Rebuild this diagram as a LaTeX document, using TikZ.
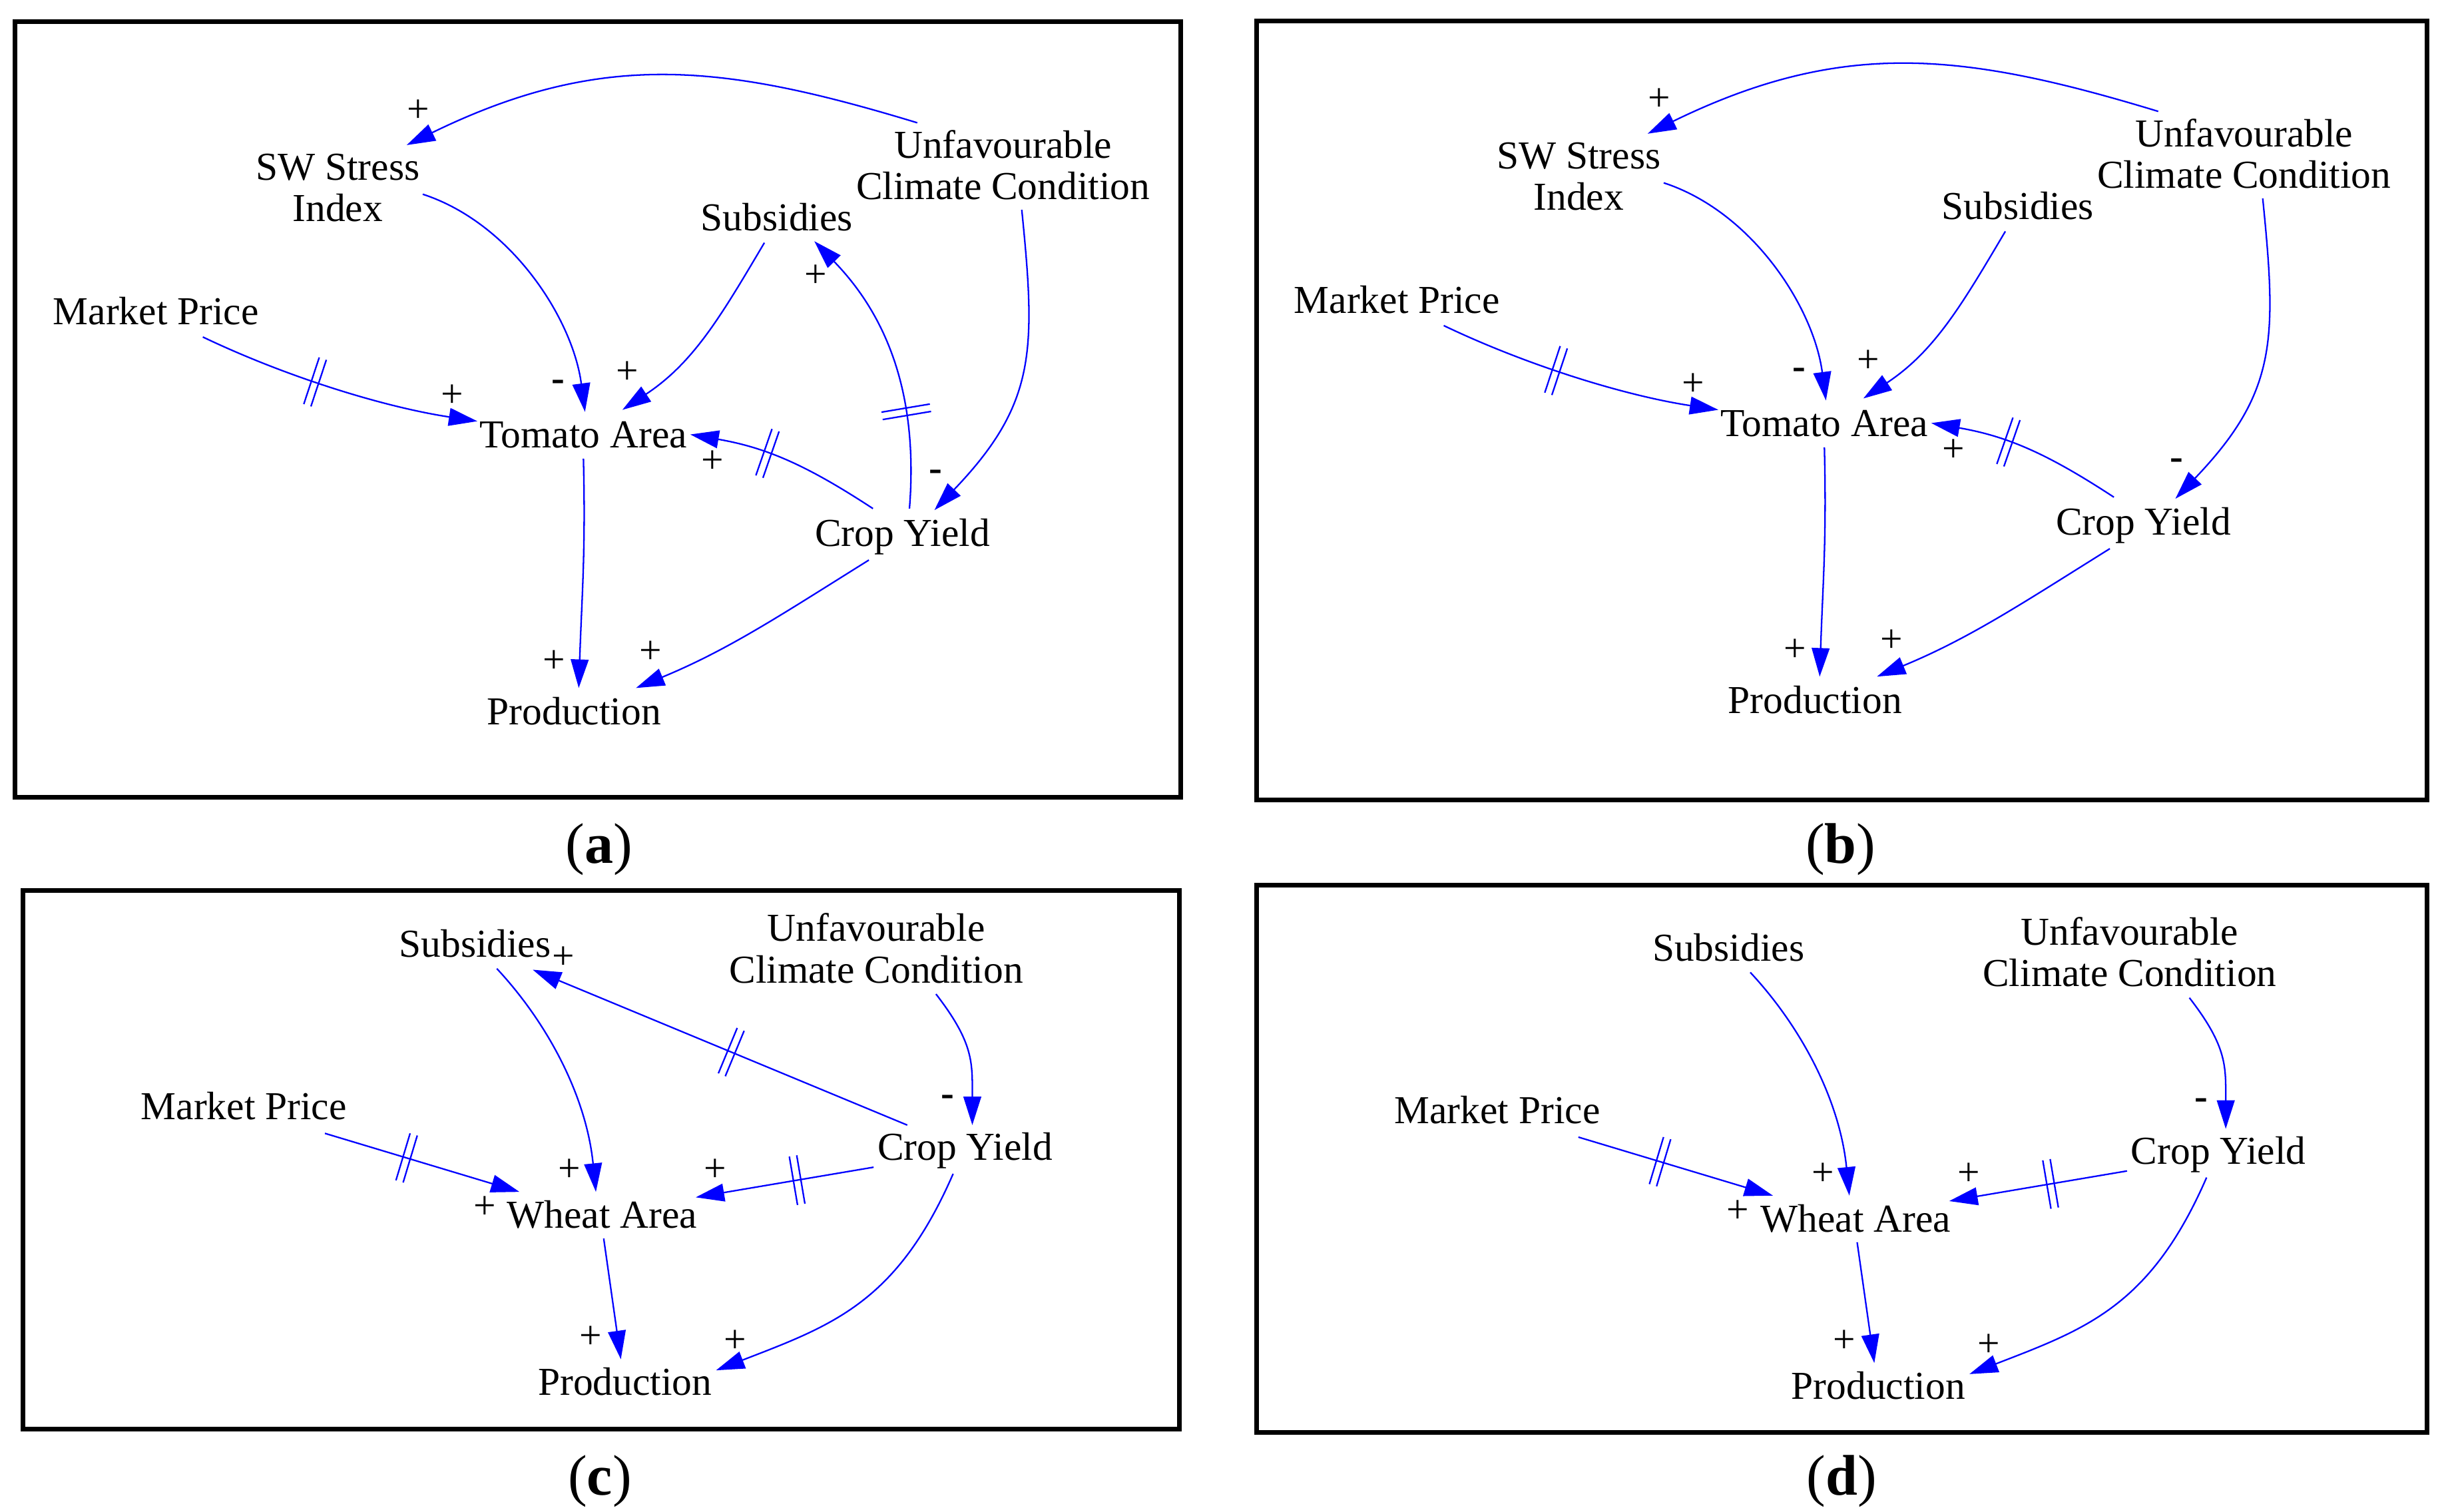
\documentclass[tikz,border=0pt]{standalone}
\usepackage{fontspec}
\setmainfont{Liberation Serif}
\usetikzlibrary{arrows.meta,decorations.markings}
\definecolor{linkblue}{RGB}{0,0,255}
\newcommand\twolines[2]{\begin{tabular}[b]{@{}c@{}}#1\\#2\end{tabular}}
\tikzset{
  lbl/.style={font=\fontsize{16.93pt}{17.75pt}\selectfont, inner sep=0pt, anchor=base},
  sgn/.style={font=\fontsize{16.93pt}{17.75pt}\selectfont, inner sep=0pt, anchor=center},
  link/.style={draw=linkblue, line width=0.65pt, -{Triangle[length=12.2pt,width=7.6pt]}},
  delaymarks/.style={postaction={decorate}, decoration={markings, mark=at position #1 with {\draw[-, draw=linkblue, line width=0.65pt] (-1.6pt,-10.5pt) -- (-1.6pt,10.5pt) (1.6pt,-10.5pt) -- (1.6pt,10.5pt);}}},
  panelframe/.style={draw=black, line width=2pt},
  captext/.style={font=\fontsize{24.5pt}{28pt}\selectfont, inner sep=0pt, anchor=base},
}
\newcommand\tomatopanel[2]{%
\begin{scope}[shift={#2}]
  \node[lbl] (#1sw) at (216.5,142) {\twolines{SW Stress}{Index}};
  \node[lbl] (#1uc) at (643,128) {\twolines{Unfavourable}{Climate Condition}};
  \node[lbl] (#1su) at (498,148) {Subsidies};
  \node[lbl] (#1mp) at (100,208) {Market Price};
  \node[lbl] (#1ta) at (374,287) {Tomato Area};
  \node[lbl] (#1cy) at (578.5,350) {Crop Yield};
  \node[lbl] (#1pr) at (368,464.6) {Production};
  \draw[link] ([shift={(-55,-49.3)}]#1uc.base) .. controls +(-125,-38) and +(125,-61) .. ([shift={(44.2,-49)}]#1sw.base);
  \draw[link] ([shift={(54.5,-17.5)}]#1sw.base) .. controls +(57,18.6) and +(-7.8,-59.4) .. ([shift={(1,-23)}]#1ta.base);
  \draw[link] ([shift={(-8,7.6)}]#1su.base) .. controls +(-28,47.3) and +(45.7,-30.3) .. ([shift={(25,-24.3)}]#1ta.base);
  \draw[link,delaymarks=0.42] ([shift={(30,8)}]#1mp.base) .. controls +(54,25.8) and +(-59.4,-9) .. ([shift={(-68,-17)}]#1ta.base);
  \draw[link,delaymarks=0.6] ([shift={(-18.9,-24)}]#1cy.base) .. controls +(-42,-27.5) and +(49.25,8.5) .. ([shift={(68.5,-8.5)}]#1ta.base);
  \draw[link] ([shift={(12,6.5)}]#1uc.base) .. controls +(9,90) and +(65.5,-68.4) .. ([shift={(20.5,-23)}]#1cy.base);
  \draw[link] ([shift={(0,7)}]#1ta.base) .. controls +(1.5,60) and +(2,-60) .. ([shift={(3,-23.6)}]#1pr.base);
  \draw[link] ([shift={(-21.5,9)}]#1cy.base) .. controls +(-55.25,34.45) and +(59.8,-24.7) .. ([shift={(39.7,-23.6)}]#1pr.base);
  \node[sgn] (#1s1) at (268,71) {+};
  \node[sgn] (#1s2) at (358,247) {\textbf{-}};
  \node[sgn] (#1s3) at (402,239) {+};
  \node[sgn] (#1s4) at (290,254) {+};
  \node[sgn] (#1s5) at (456.7,296) {+};
  \node[sgn] (#1s6) at (600,305) {\textbf{-}};
  \node[sgn] (#1s7) at (355,424) {+};
  \node[sgn] (#1s8) at (417,418) {+};
\end{scope}}
\newcommand\wheatpanel[2]{%
\begin{scope}[shift={#2}]
  \node[lbl] (#1su) at (304.5,613.5) {Subsidies};
  \node[lbl] (#1uc) at (561.7,630) {\twolines{Unfavourable}{Climate Condition}};
  \node[lbl] (#1mp) at (156.3,717.8) {Market Price};
  \node[lbl] (#1cy) at (618.6,743.7) {Crop Yield};
  \node[lbl] (#1wa) at (386,787.3) {Wheat Area};
  \node[lbl] (#1pr) at (400.6,894.3) {Production};
  \draw[link] ([shift={(14,7.4)}]#1su.base) .. controls +(34,36.5) and +(-6,-59.7) .. ([shift={(-4,-23.3)}]#1wa.base);
  \draw[link] ([shift={(38.3,7.2)}]#1uc.base) .. controls +(24.4,31.6) and +(0,-40) .. ([shift={(4.7,-22.5)}]#1cy.base);
  \draw[link,delaymarks=0.42] ([shift={(52,8.7)}]#1mp.base) -- ([shift={(-53,-23.3)}]#1wa.base);
  \draw[link,delaymarks=0.43] ([shift={(-58.6,4.5)}]#1cy.base) -- ([shift={(60,-19.8)}]#1wa.base);
  \draw[link] ([shift={(1,6.6)}]#1wa.base) -- ([shift={(-2.6,-23)}]#1pr.base);
  \draw[link] ([shift={(-7.6,8.7)}]#1cy.base) .. controls +(-36,82.8) and +(74.4,-28.8) .. ([shift={(58.4,-15.9)}]#1pr.base);
  \node[sgn] (#1s1) at (365,750.3) {+};
  \node[sgn] (#1s2) at (607.6,705.4) {\textbf{-}};
  \node[sgn] (#1s3) at (458.6,750.3) {+};
  \node[sgn] (#1s4) at (310.7,774) {+};
  \node[sgn] (#1s5) at (378.8,857.3) {+};
  \node[sgn] (#1s6) at (471.4,860) {+};
\end{scope}}
\begin{document}
\begin{tikzpicture}[x=0.02343cm, y=-0.02343cm]
  \useasboundingbox (0,0) rectangle (1568,969);
  % frames
  \draw[panelframe] (9.8,14) rectangle (757,511);
  \draw[panelframe] (805.5,13.4) rectangle (1555.7,512.6);
  \draw[panelframe] (14.7,570.7) rectangle (756,916);
  \draw[panelframe] (805.5,567.6) rectangle (1555.7,918);
  % panel (a)
  \tomatopanel{a-}{(0,0)}
  \draw[link,delaymarks=0.33] ([shift={(4.5,-24)}]a-cy.base) .. controls +(6.4,-80) and +(42,43.2) .. ([shift={(24,6.6)}]a-su.base);
  \node[sgn] (a-s9) at (523,177) {+};
  % panel (b)
  \tomatopanel{b-}{(795.5,-7.3)}
  % panel (c)
  \wheatpanel{c-}{(0,0)}
  \draw[link,delaymarks=0.47] ([shift={(-37,-22.5)}]c-cy.base) -- ([shift={(37,8.1)}]c-su.base);
  \node[sgn] (c-s7) at (361,614) {+};
  % panel (d)
  \wheatpanel{d-}{(803.5,2.4)}
  % captions
  \node[captext] (capa) at (384,553.5) {(\textbf{a})};
  \node[captext] (capb) at (1180,553.5) {(\textbf{b})};
  \node[captext] (capc) at (384.5,958.5) {(\textbf{c})};
  \node[captext] (capd) at (1180.5,958.5) {(\textbf{d})};
\end{tikzpicture}
\end{document}
